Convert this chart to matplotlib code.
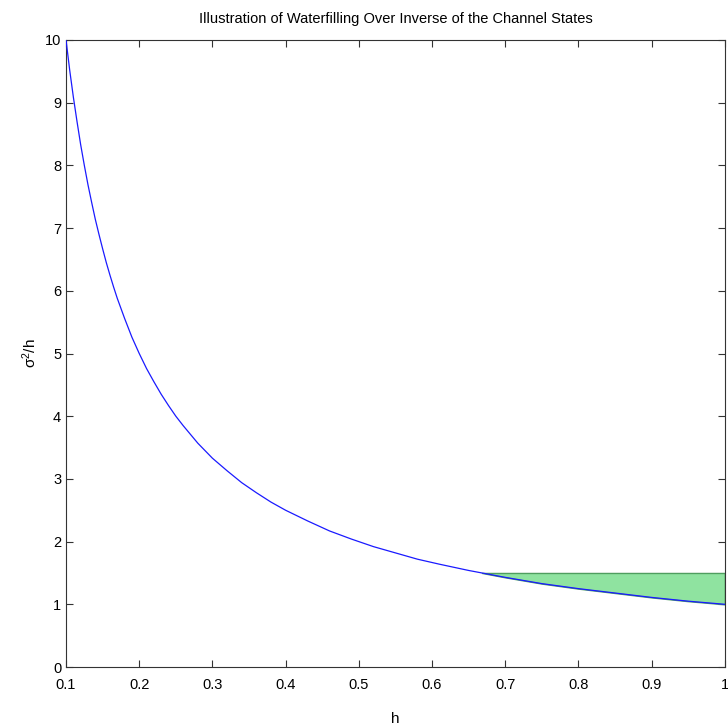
import matplotlib
matplotlib.use("Agg")
import matplotlib.pyplot as plt

plt.rcParams['font.family'] = ['Liberation Sans', 'DejaVu Sans']

h = [0.100, 0.105, 0.110, 0.115, 0.120, 0.125, 0.130, 0.135, 0.140, 0.145, 0.150,
     0.155, 0.160, 0.165, 0.170, 0.180, 0.190, 0.200, 0.210, 0.220, 0.230, 0.240,
     0.250, 0.260, 0.280, 0.300, 0.320, 0.340, 0.360, 0.380, 0.400, 0.430, 0.460,
     0.490, 0.520, 0.550, 0.580, 0.610, 0.650, 0.700, 0.750, 0.800, 0.850, 0.900,
     0.950, 1.000]
inv = [10.00, 9.52, 9.09, 8.70, 8.33, 8.00, 7.69, 7.41, 7.14, 6.90, 6.67,
       6.45, 6.25, 6.06, 5.88, 5.56, 5.26, 5.00, 4.76, 4.55, 4.35, 4.17,
       4.00, 3.85, 3.57, 3.33, 3.13, 2.94, 2.78, 2.63, 2.50, 2.33, 2.17,
       2.04, 1.92, 1.82, 1.72, 1.64, 1.54, 1.43, 1.33, 1.25, 1.18, 1.11,
       1.05, 1.00]
water_level = 1.5
xticks = [0.1, 0.2, 0.3, 0.4, 0.5, 0.6, 0.7, 0.8, 0.9, 1.0]
xticklabels = ['0.1', '0.2', '0.3', '0.4', '0.5', '0.6', '0.7', '0.8', '0.9', '1']
yticks = list(range(0, 11))

fig = plt.figure(figsize=(7.28, 7.27), dpi=100)
ax = fig.add_axes([0.0907, 0.0825, 0.905, 0.8625])

level = [water_level] * len(h)
mask = [v <= water_level for v in inv]
ax.fill_between(h, inv, level, where=mask, interpolate=True,
                facecolor='#8fe3a0', edgecolor='#4f9e5f', linewidth=1.0, zorder=2)
ax.plot(h, inv, color='#1a1aff', linewidth=0.9, zorder=3)

ax.set_xlim(0.1, 1.0)
ax.set_ylim(0, 10)
ax.set_xticks(xticks)
ax.set_xticklabels(xticklabels)
ax.set_yticks(yticks)
ax.tick_params(direction='in', top=True, right=True, labelsize=10.5, length=5,
               width=0.8, color='#333333')
ax.tick_params(axis='x', pad=8)
for s in ax.spines.values():
    s.set_color('#333333')
    s.set_linewidth(0.8)

ax.set_title('Illustration of Waterfilling Over Inverse of the Channel States',
             fontsize=10.5, pad=12)
ax.set_xlabel('h', fontsize=11, labelpad=14)
ax.set_ylabel(r'$\mathregular{\sigma^2}$/h', fontsize=11, labelpad=4)

fig.savefig('out.png', dpi=100)
